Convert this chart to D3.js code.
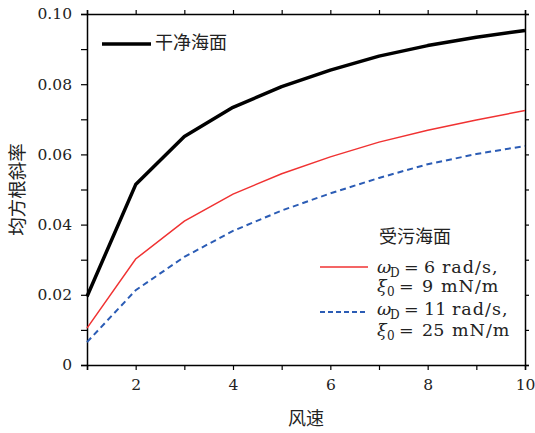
<!DOCTYPE html>
<html><head><meta charset="utf-8">
<script src="https://cdn.jsdelivr.net/npm/d3@7"></script>
<style>body{margin:0;background:#fff}svg{display:block}</style>
</head><body>
<script>
const windSpeed = [1,2,3,4,5,6,7,8,9,10];
const cleanSea = [0.0195,0.0514,0.0651,0.0734,0.0793,0.0840,0.0880,0.0910,0.0934,0.0953];
const pollutedA = [0.0105,0.0302,0.0410,0.0487,0.0545,0.0593,0.0635,0.0669,0.0698,0.0725];
const pollutedB = [0.0065,0.0213,0.0308,0.0382,0.0440,0.0489,0.0533,0.0572,0.0601,0.0624];
const xTicks = [2,4,6,8,10];
const yTicks = [0,0.02,0.04,0.06,0.08,0.10];
const yTickLabels = ["0","0.02","0.04","0.06","0.08","0.10"];

const W=535,H=433;
const m={l:87,r:10,t:14,b:68};
const svg=d3.select("body").append("svg").attr("width",W).attr("height",H);
const x=d3.scaleLinear().domain([1,10]).range([m.l,W-m.r]);
const y=d3.scaleLinear().domain([0,0.10]).range([H-m.b,m.t]);
const serif="DejaVu Serif";
const cjk="Noto Sans CJK SC";

const minorX=d3.range(1,11,1), minorY=d3.range(0,0.1001,0.01);
function styleAxis(g){g.attr("font-family",null);
  g.selectAll("path").attr("stroke","#000").attr("stroke-width",1.5);
  g.selectAll("line").attr("stroke","#000").attr("stroke-width",1.2);
  g.selectAll("text").style("font-family",serif).attr("font-size",15.5).attr("fill","#222");}
const axB=svg.append("g").attr("transform",`translate(0,${y(0)})`)
  .call(d3.axisBottom(x).tickValues(minorX).tickSizeOuter(0).tickSize(5).tickPadding(9)
  .tickFormat(d=>xTicks.includes(d)?d:""));
styleAxis(axB);
const axT=svg.append("g").attr("transform",`translate(0,${y(0.10)})`)
  .call(d3.axisTop(x).tickValues(minorX).tickSizeOuter(0).tickSize(4).tickFormat(""));
styleAxis(axT);
const axL=svg.append("g").attr("transform",`translate(${x(1)},0)`)
  .call(d3.axisLeft(y).tickValues(minorY).tickSizeOuter(0).tickSize(6).tickPadding(9)
  .tickFormat(d=>{const i=yTicks.findIndex(v=>Math.abs(v-d)<1e-9);return i>=0?yTickLabels[i]:"";}));
styleAxis(axL);
const axR=svg.append("g").attr("transform",`translate(${x(10)},0)`)
  .call(d3.axisRight(y).tickValues(minorY).tickSizeOuter(0).tickSize(4).tickFormat(""));
styleAxis(axR);

const line=d3.line().x((d,i)=>x(windSpeed[i])).y(d=>y(d));
svg.append("path").datum(pollutedB).attr("d",line).attr("fill","none")
  .attr("stroke","#2b5cb5").attr("stroke-width",2).attr("stroke-dasharray","6,4");
svg.append("path").datum(pollutedA).attr("d",line).attr("fill","none")
  .attr("stroke","#f03232").attr("stroke-width",1.5);
svg.append("path").datum(cleanSea).attr("d",line).attr("fill","none")
  .attr("stroke","#000").attr("stroke-width",3.5).attr("stroke-linejoin","round");

svg.append("text").attr("x",(x(1)+x(10))/2).attr("y",420).attr("text-anchor","middle")
  .attr("dominant-baseline","middle").style("font-family",cjk).attr("font-size",18).attr("fill","#222").text("风速");
svg.append("text").attr("transform",`translate(19,${y(0.05)}) rotate(-90)`).attr("text-anchor","middle")
  .attr("dominant-baseline","middle").style("font-family",cjk).attr("font-size",18.5).attr("fill","#222").text("均方根斜率");

svg.append("line").attr("x1",102).attr("x2",151).attr("y1",44).attr("y2",44).attr("stroke","#000").attr("stroke-width",3.5);
svg.append("text").attr("x",155).attr("y",44).attr("dominant-baseline","middle").style("font-family",cjk)
  .attr("font-size",18).attr("fill","#222").text("干净海面");

svg.append("text").attr("x",379).attr("y",238).attr("dominant-baseline","middle").style("font-family",cjk)
  .attr("font-size",18).attr("fill","#222").text("受污海面");
svg.append("line").attr("x1",320).attr("x2",368).attr("y1",267).attr("y2",267).attr("stroke","#f03232").attr("stroke-width",1.5);
svg.append("line").attr("x1",320).attr("x2",368).attr("y1",312).attr("y2",312).attr("stroke","#2b5cb5").attr("stroke-width",2).attr("stroke-dasharray","5,3");
function mathText(yy,sym,subX,sub,eqX,valX,val,unitX,unit){
  const t=svg.append("text").attr("y",yy).style("font-family",serif).attr("font-size",17.5).attr("fill","#222");
  t.append("tspan").attr("x",377).attr("font-style","italic").text(sym);
  t.append("tspan").attr("x",subX).attr("font-size",12).attr("dy",4).text(sub);
  t.append("tspan").attr("x",eqX).attr("dy",-4).text("=");
  t.append("tspan").attr("x",valX).text(val);
  t.append("tspan").attr("x",unitX).attr("letter-spacing",1).text(unit);
}
mathText(273,"ω",390,"D",404,424,"6",442,"rad/s,");
mathText(292,"ξ",387,"0",399,422,"9",441,"mN/m");
mathText(315,"ω",390,"D",404,424,"11",452,"rad/s,");
mathText(336,"ξ",387,"0",399,422,"25",452,"mN/m");
</script>
</body></html>
